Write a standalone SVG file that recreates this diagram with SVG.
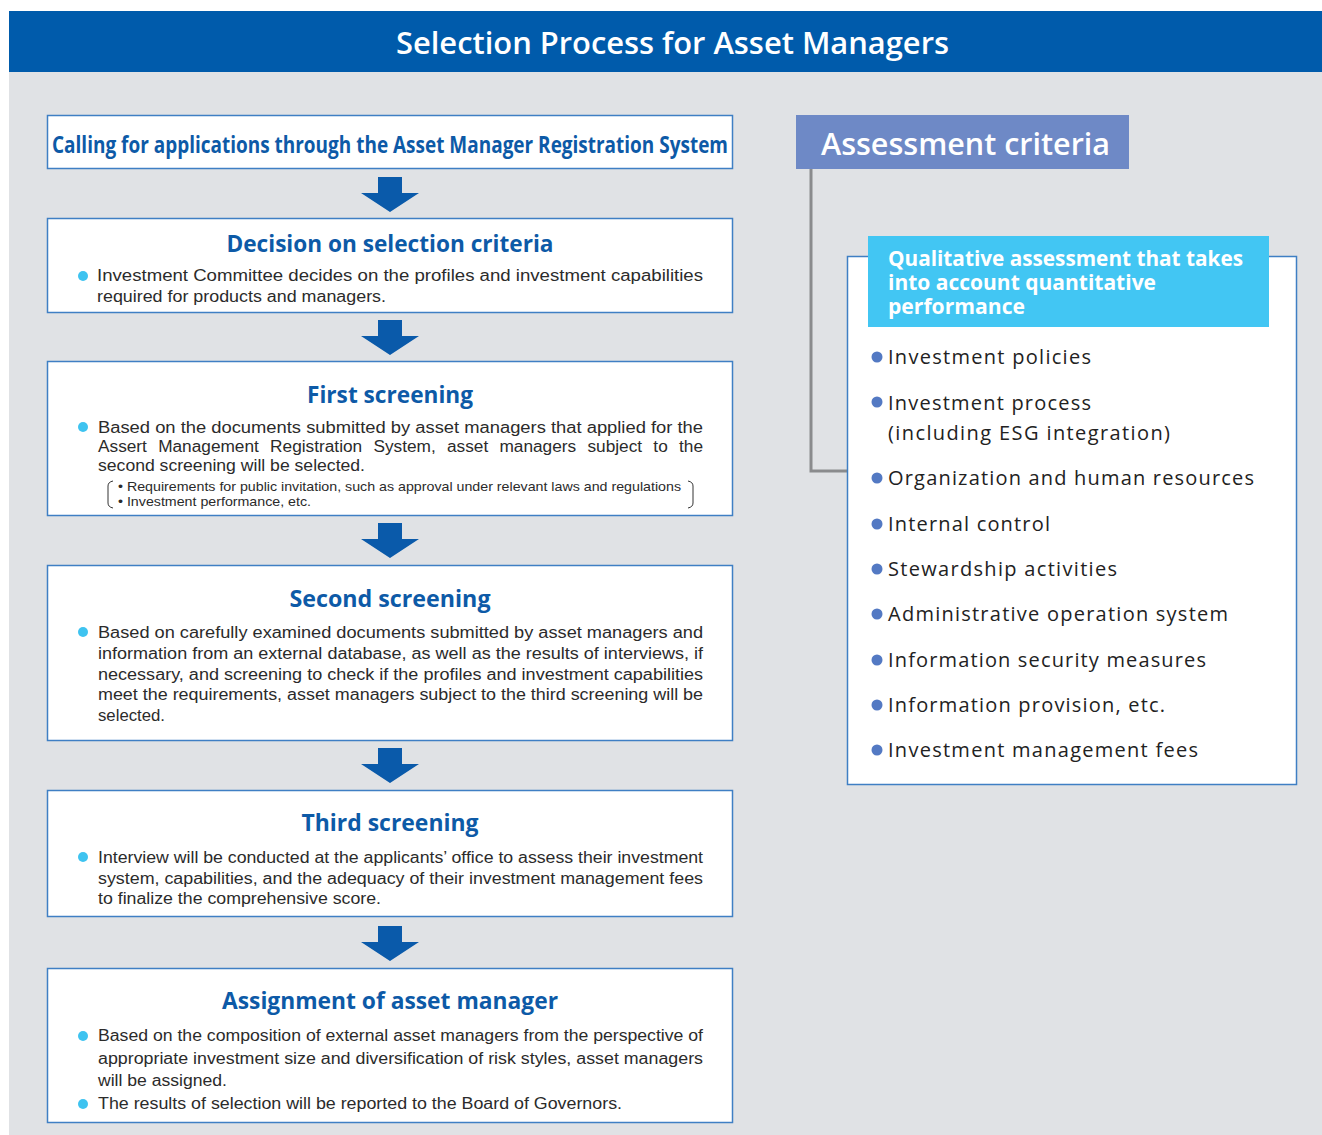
<svg xmlns="http://www.w3.org/2000/svg" width="1322" height="1135" viewBox="0 0 1322 1135">
<defs>
<style>
.box{fill:#fff;stroke:#3f7fc4;stroke-width:1.5}
.h{font-family:"Open Sans","Liberation Sans",sans-serif;font-weight:700;fill:#0d5aa7;font-size:24px}
.b{font-family:"Liberation Sans","Open Sans",sans-serif;fill:#2b2b2b;font-size:16px}
.s{font-family:"Liberation Sans","Open Sans",sans-serif;fill:#2b2b2b;font-size:13px}
.dot{fill:#3ec3f0}
.li{font-family:"Open Sans","Liberation Sans",sans-serif;fill:#222;font-size:20px}
.bd{fill:#5379c3}
.arr{fill:#0a5aaa}
</style>
<path id="arrow" d="M-12,0 H12 V16 H29 L0,35 L-29,16 H-12 Z"/>
</defs>
<rect x="0" y="0" width="1322" height="1135" fill="#fff"/>
<rect x="9" y="72" width="1313" height="1063" fill="#e0e2e5"/>
<g id="title">
<rect x="9" y="11" width="1313" height="61" fill="#005bab"/>
<text x="672.5" y="54" text-anchor="middle" font-family="Open Sans, Liberation Sans, sans-serif" font-weight="600" font-size="30" fill="#fff" textLength="553" lengthAdjust="spacingAndGlyphs">Selection Process for Asset Managers</text>
</g>
<g id="connectors">
<use href="#arrow" x="390" y="177" class="arr"/>
<use href="#arrow" x="390" y="320" class="arr"/>
<use href="#arrow" x="390" y="523" class="arr"/>
<use href="#arrow" x="390" y="748" class="arr"/>
<use href="#arrow" x="390" y="926" class="arr"/>
<polyline points="811,169 811,471 847,471" fill="none" stroke="#8a8b8d" stroke-width="3"/>
</g>
<g id="n1">
<rect class="box" x="47.5" y="115.5" width="685" height="53"/>
<text class="h" x="52" y="153" font-size="24" textLength="676" lengthAdjust="spacingAndGlyphs">Calling for applications through the Asset Manager Registration System</text>
</g>
<g id="n2">
<rect class="box" x="47.5" y="218.5" width="685" height="94"/>
<text class="h" x="390" y="252" text-anchor="middle" textLength="327" lengthAdjust="spacingAndGlyphs">Decision on selection criteria</text>
<circle class="dot" cx="83" cy="276" r="5"/>
<text class="b" x="97" y="281" textLength="606" lengthAdjust="spacingAndGlyphs">Investment Committee decides on the profiles and investment capabilities</text>
<text class="b" x="97" y="302" textLength="289" lengthAdjust="spacingAndGlyphs">required for products and managers.</text>
</g>
<g id="n3">
<rect class="box" x="47.5" y="361.5" width="685" height="154"/>
<text class="h" x="390" y="403" text-anchor="middle" textLength="166" lengthAdjust="spacingAndGlyphs">First screening</text>
<circle class="dot" cx="83" cy="427" r="5"/>
<text class="b" x="98" y="433" textLength="605" lengthAdjust="spacingAndGlyphs">Based on the documents submitted by asset managers that applied for the</text>
<text class="b" x="98" y="452" textLength="605" lengthAdjust="spacingAndGlyphs" word-spacing="6">Assert Management Registration System, asset managers subject to the</text>
<text class="b" x="98" y="471" textLength="267" lengthAdjust="spacingAndGlyphs">second screening will be selected.</text>
<text class="s" x="118" y="491" textLength="563" lengthAdjust="spacingAndGlyphs">• Requirements for public invitation, such as approval under relevant laws and regulations</text>
<text class="s" x="118" y="506" textLength="193" lengthAdjust="spacingAndGlyphs">• Investment performance, etc.</text>
<path d="M113,481 Q108,482 108,486 V503 Q108,507 113,508" fill="none" stroke="#333" stroke-width="1"/>
<path d="M688,481 Q693,482 693,486 V503 Q693,507 688,508" fill="none" stroke="#333" stroke-width="1"/>
</g>
<g id="n4">
<rect class="box" x="47.5" y="565.5" width="685" height="175"/>
<text class="h" x="390" y="607" text-anchor="middle" textLength="201" lengthAdjust="spacingAndGlyphs">Second screening</text>
<circle class="dot" cx="83" cy="632" r="5"/>
<text class="b" x="98" y="638" textLength="605" lengthAdjust="spacingAndGlyphs">Based on carefully examined documents submitted by asset managers and</text>
<text class="b" x="98" y="659" textLength="605" lengthAdjust="spacingAndGlyphs">information from an external database, as well as the results of interviews, if</text>
<text class="b" x="98" y="680" textLength="605" lengthAdjust="spacingAndGlyphs">necessary, and screening to check if the profiles and investment capabilities</text>
<text class="b" x="98" y="700" textLength="605" lengthAdjust="spacingAndGlyphs">meet the requirements, asset managers subject to the third screening will be</text>
<text class="b" x="98" y="721" textLength="67" lengthAdjust="spacingAndGlyphs">selected.</text>
</g>
<g id="n5">
<rect class="box" x="47.5" y="790.5" width="685" height="126"/>
<text class="h" x="390" y="831" text-anchor="middle" textLength="177" lengthAdjust="spacingAndGlyphs">Third screening</text>
<circle class="dot" cx="83" cy="857" r="5"/>
<text class="b" x="98" y="863" textLength="605" lengthAdjust="spacingAndGlyphs">Interview will be conducted at the applicants’ office to assess their investment</text>
<text class="b" x="98" y="884" textLength="605" lengthAdjust="spacingAndGlyphs">system, capabilities, and the adequacy of their investment management fees</text>
<text class="b" x="98" y="904" textLength="283" lengthAdjust="spacingAndGlyphs">to finalize the comprehensive score.</text>
</g>
<g id="n6">
<rect class="box" x="47.5" y="968.5" width="685" height="154"/>
<text class="h" x="390" y="1009" text-anchor="middle" textLength="336" lengthAdjust="spacingAndGlyphs">Assignment of asset manager</text>
<circle class="dot" cx="83" cy="1036" r="5"/>
<text class="b" x="98" y="1041" textLength="605" lengthAdjust="spacingAndGlyphs">Based on the composition of external asset managers from the perspective of</text>
<text class="b" x="98" y="1064" textLength="605" lengthAdjust="spacingAndGlyphs">appropriate investment size and diversification of risk styles, asset managers</text>
<text class="b" x="98" y="1086" textLength="129" lengthAdjust="spacingAndGlyphs">will be assigned.</text>
<circle class="dot" cx="83" cy="1104" r="5"/>
<text class="b" x="98" y="1109" textLength="524" lengthAdjust="spacingAndGlyphs">The results of selection will be reported to  the Board of Governors.</text>
</g>
<g id="criteria-head">
<rect x="796" y="115" width="333" height="54" fill="#6e89c6"/>
<text x="821" y="155" font-family="Open Sans, Liberation Sans, sans-serif" font-weight="600" font-size="31" fill="#fff" textLength="289" lengthAdjust="spacingAndGlyphs">Assessment criteria</text>
</g>
<g id="criteria-box">
<rect class="box" x="847.5" y="256.5" width="449" height="528"/>
<rect x="868" y="236" width="401" height="91" fill="#42c6f3"/>
<g font-family="Open Sans, Liberation Sans, sans-serif" font-weight="700" font-size="21" fill="#fff">
<text x="888" y="266" textLength="355" lengthAdjust="spacingAndGlyphs">Qualitative assessment that takes</text>
<text x="888" y="290" textLength="268" lengthAdjust="spacingAndGlyphs">into account quantitative</text>
<text x="888" y="314" textLength="137" lengthAdjust="spacingAndGlyphs">performance</text>
</g>
<circle class="bd" cx="877" cy="357" r="5.5"/>
<text class="li" x="888" y="364" textLength="203" lengthAdjust="spacing">Investment policies</text>
<circle class="bd" cx="877" cy="402" r="5.5"/>
<text class="li" x="888" y="410" textLength="203" lengthAdjust="spacing">Investment process</text>
<text class="li" x="888" y="440" textLength="282" lengthAdjust="spacing">(including ESG integration)</text>
<circle class="bd" cx="877" cy="478" r="5.5"/>
<text class="li" x="888" y="485" textLength="366" lengthAdjust="spacing">Organization and human resources</text>
<circle class="bd" cx="877" cy="524" r="5.5"/>
<text class="li" x="888" y="531" textLength="162" lengthAdjust="spacing">Internal control</text>
<circle class="bd" cx="877" cy="569" r="5.5"/>
<text class="li" x="888" y="576" textLength="229" lengthAdjust="spacing">Stewardship activities</text>
<circle class="bd" cx="877" cy="614" r="5.5"/>
<text class="li" x="888" y="621" textLength="340" lengthAdjust="spacing">Administrative operation system</text>
<circle class="bd" cx="877" cy="660" r="5.5"/>
<text class="li" x="888" y="667" textLength="318" lengthAdjust="spacing">Information security measures</text>
<circle class="bd" cx="877" cy="705" r="5.5"/>
<text class="li" x="888" y="712" textLength="277" lengthAdjust="spacing">Information provision, etc.</text>
<circle class="bd" cx="877" cy="750" r="5.5"/>
<text class="li" x="888" y="757" textLength="310" lengthAdjust="spacing">Investment management fees</text>
</g>
</svg>
